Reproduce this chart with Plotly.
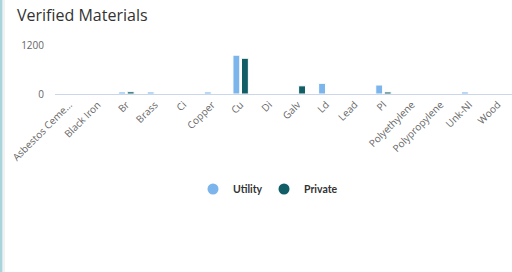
import plotly.graph_objects as go

categories = ["Asbestos Ceme…", "Black Iron", "Br", "Brass", "Ci", "Copper", "Cu", "Di",
              "Galv", "Ld", "Lead", "Pl", "Polyethylene", "Polypropylene", "Unk-Nl", "Wood"]
utility = [0, 0, 50, 50, 0, 50, 950, 0, 0, 262, 0, 220, 0, 0, 50, 0]
private = [0, 0, 55, 0, 0, 0, 875, 0, 200, 0, 0, 50, 0, 0, 0, 0]
y_ticks = [0, 1200]

UTIL_C = "#7cb5ec"
PRIV_C = "#115e66"

W, H = 512, 272
L, R, T, B = 55, 0, 45, 178
pw, ph = W - L - R, H - T - B

def px_x(px):
    return (px - L) / pw

def px_y(py):
    return (H - B - py) / ph

fig = go.Figure()
fig.add_trace(go.Bar(x=categories, y=utility, name="Utility", marker=dict(color=UTIL_C, line=dict(color="white", width=1)),
                     showlegend=False))
fig.add_trace(go.Bar(x=categories, y=private, name="Private", marker=dict(color=PRIV_C, line=dict(color="white", width=1)),
                     showlegend=False))
for nm, c in [("Utility", UTIL_C), ("Private", PRIV_C), (" ", "rgba(0,0,0,0)")]:
    fig.add_trace(go.Scatter(x=[None], y=[None], mode="markers", name=nm,
                             marker=dict(color=c, size=11, symbol="circle")))

fig.update_layout(
    width=W, height=H,
    margin=dict(l=L, r=R, t=T, b=B, pad=0),
    paper_bgcolor="white", plot_bgcolor="white",
    barmode="group", bargap=0.4, bargroupgap=0.2,
    font=dict(family="Open Sans", color="#666666", size=10),
    title=dict(text="Verified Materials", x=17 / W, xanchor="left", y=1 - 15 / H, yanchor="middle",
               font=dict(family="Open Sans", size=16, color="#333333")),
    legend=dict(orientation="h", x=px_x(193), xanchor="left", y=px_y(189), yanchor="middle",
                entrywidth=26, entrywidthmode="pixels",
                font=dict(family="Lato", size=10.5, color="#333333", weight="bold"),
                itemclick=False, bgcolor="rgba(0,0,0,0)"),
    xaxis=dict(type="category", range=[-0.5, len(categories) - 0.5], tickangle=-45,
               showgrid=False, showline=True, linecolor="#ccd6eb", linewidth=1,
               ticks="", tickfont=dict(family="Open Sans", size=10, color="#666666"),
               zeroline=False, fixedrange=True),
    yaxis=dict(range=[0, 1200], tickvals=y_ticks, ticktext=[str(v) for v in y_ticks],
               showgrid=True, gridcolor="#e6e6e6", gridwidth=1, zeroline=False,
               ticks="", ticklabelstandoff=10,
               tickfont=dict(family="Open Sans", size=10, color="#666666"), fixedrange=True),
    shapes=[
        dict(type="rect", xref="paper", yref="paper", x0=px_x(0), x1=px_x(2.5), y0=px_y(H), y1=px_y(0),
             fillcolor="#a9d5da", line=dict(width=0), layer="above"),
        dict(type="line", xref="paper", yref="paper", x0=px_x(4), x1=px_x(4), y0=px_y(H), y1=px_y(0),
             line=dict(color="#e4e4e4", width=1), layer="above"),
    ],
)

fig.write_html("out.html", config={"displayModeBar": False},
               post_script="document.body.style.margin='0';document.body.style.overflow='hidden';")
